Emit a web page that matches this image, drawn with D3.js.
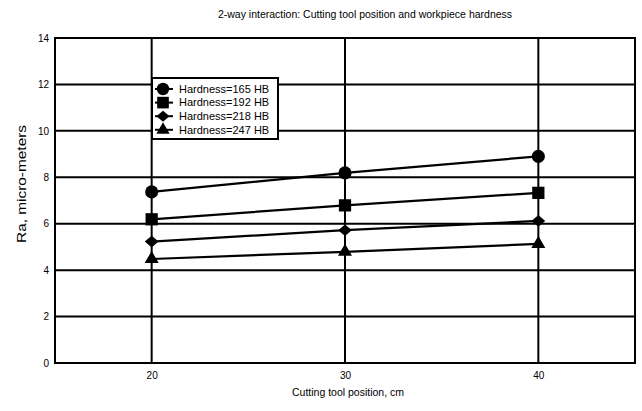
<!DOCTYPE html>
<html>
<head>
<meta charset="utf-8">
<script src="https://d3js.org/d3.v7.min.js"></script>
<style>
  body { margin: 0; background: #fff; }
  text { font-family: "Liberation Sans", Arial, sans-serif; fill: #000; }
</style>
</head>
<body>
<svg width="642" height="411" id="chart"></svg>
<script>
    // data
    const positions = [20, 30, 40];
    const hardness = ["165", "192", "218", "247"];
    const symbols = ["circle", "square", "diamond", "triangle"];
    const ra165 = [7.37, 8.19, 8.9];
    const ra192 = [6.19, 6.79, 7.33];
    const ra218 = [5.23, 5.72, 6.12];
    const ra247 = [4.48, 4.79, 5.13];
    const xTicks = [20, 30, 40];
    const yTicks = [0, 2, 4, 6, 8, 10, 12, 14];

    const series = [ra165, ra192, ra218, ra247].map((vals, i) => ({
        name: "Hardness=" + hardness[i] + " HB",
        symbol: symbols[i],
        values: vals.map((v, j) => ({x: positions[j], y: v}))
    }));

    const pLeft = 55, pRight = 635, pTop = 38, pBottom = 363;

    const x = d3.scaleLinear().domain([15, 45]).range([pLeft, pRight]);
    const y = d3.scaleLinear().domain([0, 14]).range([pBottom, pTop]);

    const svg = d3.select("#chart");

    // title
    svg.append("text")
        .attr("x", 365).attr("y", 18)
        .attr("text-anchor", "middle")
        .style("font-size", "10.5px")
        .text("2-way interaction: Cutting tool position and workpiece hardness");

    // grid
    svg.append("g").selectAll("line")
        .data(yTicks).enter().append("line")
        .attr("x1", pLeft).attr("x2", pRight)
        .attr("y1", d => y(d)).attr("y2", d => y(d))
        .attr("stroke", "#000").attr("stroke-width", 2);

    svg.append("g").selectAll("line")
        .data(xTicks).enter().append("line")
        .attr("x1", d => x(d)).attr("x2", d => x(d))
        .attr("y1", pTop).attr("y2", pBottom)
        .attr("stroke", "#000").attr("stroke-width", 2);

    svg.append("rect")
        .attr("x", pLeft).attr("y", pTop)
        .attr("width", pRight - pLeft).attr("height", pBottom - pTop)
        .attr("fill", "none").attr("stroke", "#000").attr("stroke-width", 2);

    // axes (labels only)
    const yAxis = svg.append("g")
        .attr("transform", "translate(" + pLeft + ",0)")
        .call(d3.axisLeft(y).tickValues(yTicks).tickSize(0).tickPadding(6));
    yAxis.select(".domain").remove();
    yAxis.selectAll("text").style("font-size", "10px").style("font-family", "Liberation Sans, Arial, sans-serif");

    const xAxis = svg.append("g")
        .attr("transform", "translate(0," + pBottom + ")")
        .call(d3.axisBottom(x).tickValues(xTicks).tickSize(0).tickPadding(9));
    xAxis.select(".domain").remove();
    xAxis.selectAll("text").style("font-size", "10px").style("font-family", "Liberation Sans, Arial, sans-serif");

    svg.append("text")
        .attr("x", 348).attr("y", 396)
        .attr("text-anchor", "middle")
        .style("font-size", "10.5px")
        .text("Cutting tool position, cm");

    svg.append("text")
        .attr("transform", "translate(26,184) rotate(-90)")
        .attr("text-anchor", "middle")
        .attr("textLength", 118)
        .attr("lengthAdjust", "spacingAndGlyphs")
        .style("font-size", "13px")
        .text("Ra, micro-meters");

    const symbolType = {
        circle: d3.symbolCircle,
        square: d3.symbolSquare,
        diamond: d3.symbolDiamond,
        triangle: d3.symbolTriangle
    };
    const symbolSize = {circle: 135, square: 150, diamond: 90, triangle: 85};
    // the reference diamond is wider than tall
    const symbolScale = {circle: "", square: "", diamond: " scale(1.35,0.66)", triangle: ""};

    const lineGen = d3.line().x(d => x(d.x)).y(d => y(d.y));

    // legend box
    const legend = svg.append("g");
    legend.append("rect")
        .attr("x", 152).attr("y", 78)
        .attr("width", 126).attr("height", 61)
        .attr("fill", "#fff").attr("stroke", "#000").attr("stroke-width", 2);

    series.forEach((s, i) => {
        svg.append("path")
            .datum(s.values)
            .attr("d", lineGen)
            .attr("fill", "none")
            .attr("stroke", "#000")
            .attr("stroke-width", 2.2);

        svg.append("g").selectAll("path")
            .data(s.values).enter().append("path")
            .attr("transform", d => "translate(" + x(d.x) + "," + y(d.y) + ")" + symbolScale[s.symbol])
            .attr("d", d3.symbol().type(symbolType[s.symbol]).size(symbolSize[s.symbol]))
            .attr("fill", "#000");

        const ly = 89 + i * 13.6;
        legend.append("line")
            .attr("x1", 155).attr("x2", 173)
            .attr("y1", ly).attr("y2", ly)
            .attr("stroke", "#000").attr("stroke-width", 2);
        legend.append("path")
            .attr("transform", "translate(163," + ly + ")" + symbolScale[s.symbol])
            .attr("d", d3.symbol().type(symbolType[s.symbol]).size(symbolSize[s.symbol] * 0.9))
            .attr("fill", "#000");
        legend.append("text")
            .attr("x", 179).attr("y", ly)
            .attr("dy", "0.35em")
            .style("font-size", "11px")
            .text(s.name);
    });
</script>
</body>
</html>
